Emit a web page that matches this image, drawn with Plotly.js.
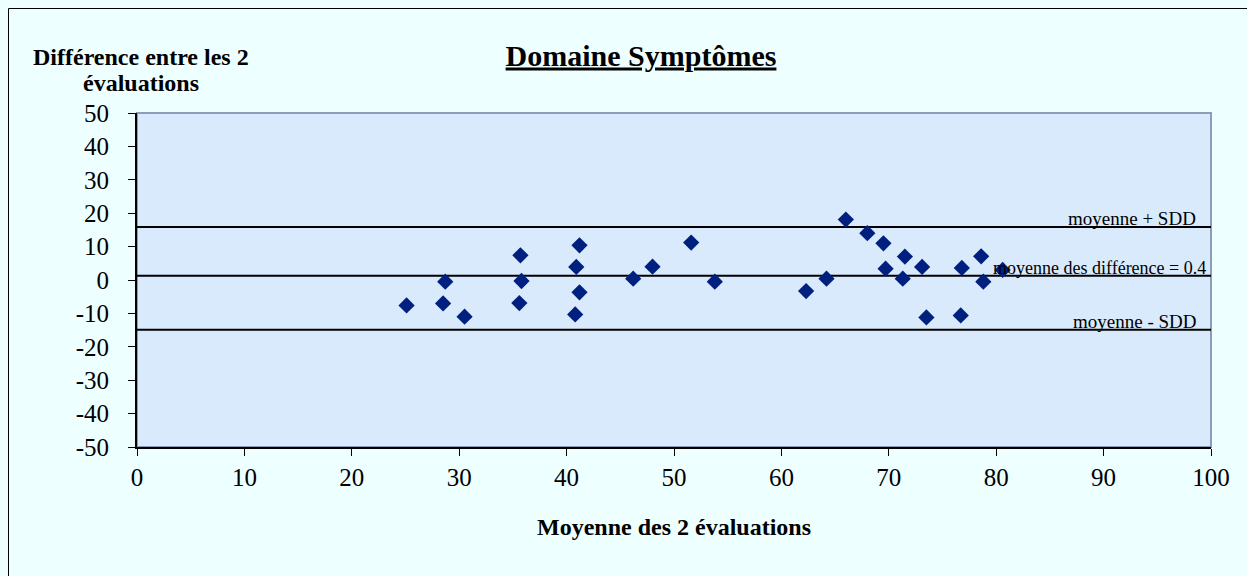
<!DOCTYPE html>
<html>
<head>
<meta charset="utf-8">
<script src="https://cdn.plot.ly/plotly-3.0.1.min.js"></script>
<style>
  html, body { margin: 0; padding: 0; background: #EEFFFF; }
  #chart { width: 1247px; height: 576px; }
</style>
</head>
<body>
<div id="chart"></div>
<script>
// Data
const meanValues = [25.1, 28.7, 28.5, 30.5, 35.7, 35.8, 35.6, 41.2, 40.9, 41.2, 40.8,
  46.2, 48.0, 51.6, 53.8, 62.3, 64.2, 66.0, 68.0, 69.5, 69.7, 71.5, 71.3, 73.1, 73.5,
  76.8, 76.7, 78.6, 78.8, 80.6];
const diffValues = [-7.6, -0.5, -7.0, -11.0, 7.4, -0.3, -6.9, 10.4, 3.9, -3.7, -10.3,
  0.4, 4.0, 11.2, -0.5, -3.3, 0.4, 18.1, 14.0, 11.0, 3.4, 7.0, 0.4, 3.9, -11.2,
  3.6, -10.6, 7.1, -0.5, 3.0];
const lineNames = ["moyenne + SDD", "moyenne des différence = 0.4", "moyenne - SDD"];
const lineValues = [15.9, 1.3, -14.9];
const lineXRange = [0, 100];
const xTicks = [0, 10, 20, 30, 40, 50, 60, 70, 80, 90, 100];
const yTicks = [-50, -40, -30, -20, -10, 0, 10, 20, 30, 40, 50];
const yTitleLines = ["Différence entre les 2", "évaluations"];

const serif = "Liberation Serif, Times New Roman, serif";

const traces = [];
lineValues.forEach((v, i) => {
  traces.push({
    type: "scatter", mode: "lines",
    x: lineXRange, y: [v, v],
    line: { color: "#000000", width: 2 },
    hoverinfo: "skip", showlegend: false, name: lineNames[i]
  });
});
traces.push({
  type: "scatter", mode: "markers",
  x: meanValues, y: diffValues,
  marker: { symbol: "diamond", size: 12.5, color: "#00207F", line: { width: 0 } },
  showlegend: false
});

const annotations = lineValues.map((v, i) => ({
  x: i === 1 ? 99.7 : 98.8, y: v, xref: "x", yref: "y",
  text: lineNames[i], showarrow: false,
  xanchor: "right", yanchor: i === 1 ? "middle" : "bottom",
  yshift: i === 1 ? 8 : -4,
  font: { family: serif, size: i === 1 ? 18 : 19, color: "#000000" }
}));
const yTitleY = [57, 83];
yTitleLines.forEach((t, i) => {
  annotations.push({
    x: (141 - 137) / 1074, y: (447 - yTitleY[i]) / 334, xref: "paper", yref: "paper",
    text: "<b>" + t + "</b>", showarrow: false,
    xanchor: "center", yanchor: "middle",
    font: { family: serif, size: 24, color: "#000000" }
  });
});

const layout = {
  width: 1247, height: 576,
  paper_bgcolor: "#EEFFFF",
  plot_bgcolor: "#D9EAFD",
  margin: { l: 137, r: 36, t: 113, b: 129, pad: 0 },
  title: {
    text: "<b><u>Domaine Symptômes</u></b>",
    font: { family: serif, size: 30, color: "#000000" },
    x: 641 / 1247, xref: "container", xanchor: "center",
    y: 1 - 55 / 576, yref: "container", yanchor: "middle"
  },
  xaxis: {
    range: [0, 100], tickvals: xTicks, ticktext: xTicks.map(String),
    showgrid: false, zeroline: false,
    showline: true, linecolor: "#000000", linewidth: 2,
    ticks: "outside", ticklen: 7, tickcolor: "#000000", tickwidth: 1,
    tickfont: { family: serif, size: 25, color: "#000000" },
    title: { text: "<b>Moyenne des 2 évaluations</b>", font: { family: serif, size: 24, color: "#000000" }, standoff: 28 },
    fixedrange: true
  },
  yaxis: {
    range: [-50, 50], tickvals: yTicks, ticktext: yTicks.map(String),
    showgrid: false, zeroline: false,
    showline: true, linecolor: "#000000", linewidth: 2,
    ticks: "outside", ticklen: 7, tickcolor: "#000000", tickwidth: 1,
    ticklabelstandoff: 14,
    tickfont: { family: serif, size: 25, color: "#000000" },
    fixedrange: true
  },
  shapes: [
    { type: "rect", xref: "paper", yref: "paper", x0: 0, x1: 1, y0: 0, y1: 1,
      line: { color: "#8C9DB8", width: 2 }, layer: "below" },
    { type: "rect", xref: "paper", yref: "paper",
      x0: (8.5 - 137) / 1074, x1: (1252 - 137) / 1074,
      y0: (447 - 580) / 334, y1: (447 - 8.5) / 334,
      line: { color: "#000000", width: 1 }, fillcolor: "rgba(0,0,0,0)", layer: "below" }
  ],
  annotations: annotations,
  showlegend: false,
  hovermode: false
};

Plotly.newPlot("chart", traces, layout, { displayModeBar: false, staticPlot: true });
</script>
</body>
</html>
